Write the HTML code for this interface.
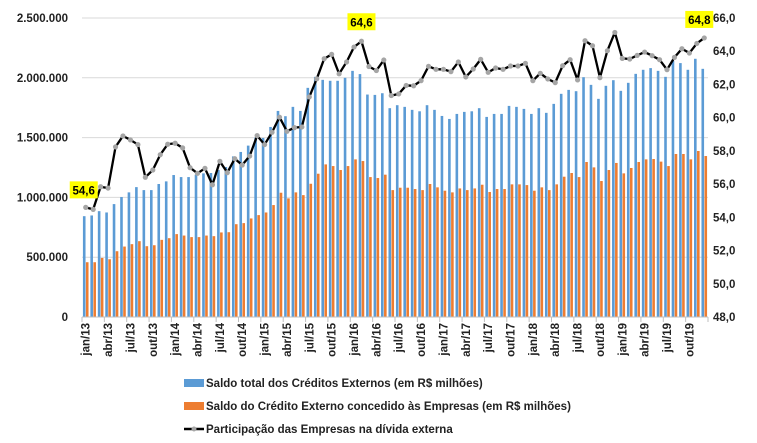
<!DOCTYPE html>
<html><head><meta charset="utf-8"><style>
body{margin:0;background:#fff;}
svg{display:block;font-family:"Liberation Sans",Arial,sans-serif;}
</style></head><body>
<svg id="chart" width="757" height="443" viewBox="0 0 757 443" xmlns="http://www.w3.org/2000/svg">
<g id="grid"></g>
<g id="bars"></g>
<g id="line"></g>
<g id="yleft"></g>
<g id="yright"></g>
<g id="xaxis"></g>
<g id="labels"></g>
<g id="legend">
  <rect x="184" y="379" width="20" height="8" fill="#5B9BD5"/>
  <text x="206" y="387" font-size="11.5" font-weight="bold" fill="#222">Saldo total dos Créditos Externos (em R$ milhões)</text>
  <rect x="184" y="402" width="20" height="8" fill="#ED7D31"/>
  <text x="206" y="410" font-size="11.5" font-weight="bold" fill="#222">Saldo do Crédito Externo concedido às Empresas (em R$ milhões)</text>
  <line x1="184" y1="429" x2="204" y2="429" stroke="#000" stroke-width="2.5"/>
  <circle cx="194" cy="429" r="2.5" fill="#A5A5A5"/>
  <text x="206" y="433" font-size="11.5" font-weight="bold" fill="#222">Participação das Empresas na dívida externa</text>
</g>
</svg>
<script>
const months=["jan","fev","mar","abr","mai","jun","jul","ago","set","out","nov","dez"];
const years=[13,14,15,16,17,18,19];
const totalCredit=[0.843,0.849,0.885,0.874,0.944,1.003,1.042,1.086,1.061,1.061,1.112,1.134,1.187,1.170,1.170,1.190,1.201,1.204,1.229,1.254,1.343,1.380,1.433,1.500,1.497,1.589,1.723,1.679,1.757,1.723,1.916,2.008,1.983,1.975,1.975,2.000,2.058,2.031,1.860,1.857,1.871,1.746,1.771,
1.757,1.732,1.720,1.771,1.732,1.681,1.656,1.698,1.715,1.720,1.746,1.673,1.698,1.698,1.765,1.757,1.740,1.698,1.746,1.707,1.782,1.866,1.899,1.888,2.005,1.941,1.824,1.933,1.980,1.891,1.958,2.033,2.067,2.081,2.058,2.008,2.142,2.123,2.067,2.159,2.075];
const companyCredit=[0.458,0.458,0.494,0.483,0.550,0.589,0.609,0.634,0.592,0.600,0.645,0.659,0.693,0.681,0.668,0.668,0.681,0.676,0.707,0.709,0.776,0.785,0.824,0.852,0.874,0.936,1.039,0.992,1.042,1.019,1.114,1.198,1.276,1.262,1.229,1.262,1.318,1.304,1.170,1.162,1.190,1.061,1.081,
1.081,1.070,1.061,1.112,1.084,1.056,1.042,1.075,1.061,1.075,1.106,1.045,1.070,1.070,1.109,1.109,1.103,1.056,1.084,1.061,1.109,1.173,1.204,1.170,1.296,1.251,1.137,1.229,1.288,1.201,1.246,1.296,1.318,1.321,1.299,1.262,1.363,1.363,1.318,1.388,1.346];
const share=[54.6,54.48,55.84,55.76,58.24,58.9,58.66,58.38,56.41,56.85,57.77,58.4,58.46,58.18,56.99,56.65,56.95,55.96,57.37,56.69,57.53,57.15,57.69,58.92,58.38,59.12,60.03,59.18,59.4,59.44,61.25,62.34,63.55,63.81,62.64,63.35,64.25,64.6,63.08,62.84,63.47,61.33,61.43,
61.94,61.92,62.23,63.09,62.91,62.91,62.77,63.35,62.45,62.93,63.51,62.73,62.99,62.91,63.11,63.11,63.27,62.23,62.67,62.33,62.11,63.13,63.49,62.27,64.63,64.33,62.41,64.03,65.13,63.57,63.53,63.75,63.95,63.73,63.49,62.89,63.63,64.15,63.89,64.47,64.8];
const leftTicks=[0,500000,1000000,1500000,2000000,2500000];
const leftTickLabels=["0","500.000","1.000.000","1.500.000","2.000.000","2.500.000"];
const rightTicks=[48,50,52,54,56,58,60,62,64,66];
const highlighted=[0,37,83];

const NS="http://www.w3.org/2000/svg";
const X0=82,X1=708,Y0=317,Y1=18,N=totalCredit.length;
const step=(X1-X0)/N;
const xC=i=>X0+step*(i+0.5);
const yL=v=>Y0-(v/2500000)*(Y0-Y1);
const yR=v=>Y0-((v-48)/18)*(Y0-Y1);
function mk(tag,attrs,parent){const e=document.createElementNS(NS,tag);for(const k in attrs)e.setAttribute(k,attrs[k]);parent.appendChild(e);return e;}
const g=id=>document.getElementById(id);

leftTicks.forEach((t,i)=>{
  const ln=mk("line",{x1:X0,x2:X1,y1:yL(t),y2:yL(t),stroke:"#D9D9D9","stroke-width":1},g("grid"));
  
  
  const tx=mk("text",{x:68,y:yL(t)+4,"text-anchor":"end","font-size":11.5,"font-weight":"bold",fill:"#222"},g("yleft"));
  tx.textContent=leftTickLabels[i];
  
  
});
rightTicks.forEach(t=>{
  const tx=mk("text",{x:713,y:yR(t)+4,"font-size":11.5,"font-weight":"bold",fill:"#222"},g("yright"));
  tx.textContent=t.toFixed(1).replace(".",",");
  
  
});
const bw=2.6;
for(let i=0;i<N;i++){
  const b=mk("rect",{x:xC(i)-bw-0.2,y:yL(totalCredit[i]*1e6),width:bw,height:Y0-yL(totalCredit[i]*1e6),fill:"#5B9BD5"},g("bars"));
  
  
  const o=mk("rect",{x:xC(i)+0.2,y:yL(companyCredit[i]*1e6),width:bw,height:Y0-yL(companyCredit[i]*1e6),fill:"#ED7D31"},g("bars"));
  
  
}
const ax=mk("line",{x1:X0,x2:X1,y1:Y0,y2:Y0,stroke:"#BFBFBF"},g("xaxis"));


for(let i=0;i<=N;i+=3){
  const tk=mk("line",{x1:X0+step*i,x2:X0+step*i,y1:Y0,y2:Y0+5,stroke:"#BFBFBF"},g("xaxis"));
  
  
}
for(let i=0;i<N;i+=3){
  const lbl=months[i%12]+"/"+years[Math.floor(i/12)];
  const x=xC(i)+4,y=Y0+6;
  const tx=mk("text",{x:x,y:y,"text-anchor":"end","font-size":11.5,"font-weight":"bold",fill:"#222",transform:`rotate(-90 ${x} ${y})`},g("xaxis"));
  tx.textContent=lbl;
  
  
}
const pts=share.map((v,i)=>xC(i)+","+yR(v)).join(" ");
const pl=mk("polyline",{points:pts,fill:"none",stroke:"#000","stroke-width":2.3,"stroke-linejoin":"round"},g("line"));


share.forEach((v,i)=>{
  const c=mk("circle",{cx:xC(i),cy:yR(v),r:2.6,fill:"#A5A5A5"},g("line"));
  
  
});
highlighted.forEach(i=>{
  const x=xC(i),y=yR(share[i]);
  let cx=x,cy=y-19;
  if(i===0){cx=x-2;cy=y-17;}
  if(i===N-1){cx=x-5;cy=y-18;}
  const r=mk("rect",{x:cx-14,y:cy-9,width:28,height:17,fill:"#FFFF00"},g("labels"));
  
  
  const t=mk("text",{x:cx,y:cy+4,"text-anchor":"middle","font-size":11.5,"font-weight":"bold",fill:"#000"},g("labels"));
  t.textContent=share[i].toFixed(1).replace(".",",");
  
  
});
</script>
</body></html>
